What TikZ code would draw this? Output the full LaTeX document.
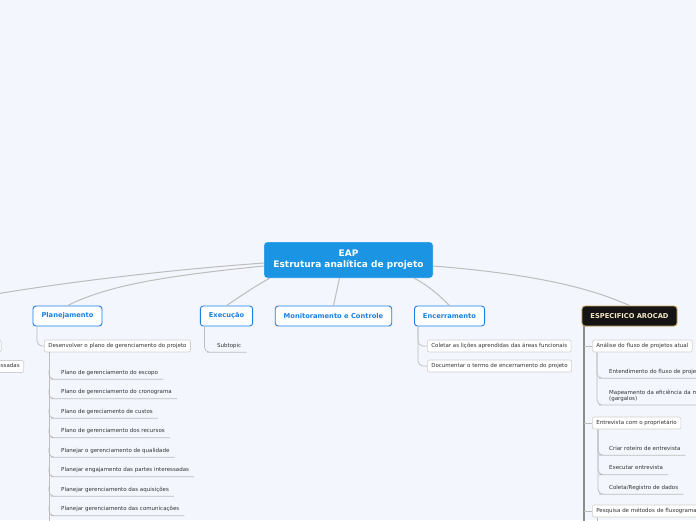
\documentclass[tikz,border=0pt]{standalone}
\usepackage{fontspec}
\setmainfont{DejaVu Sans}
\usepackage{xcolor}
\usetikzlibrary{positioning,calc}
\definecolor{bgpage}{HTML}{F3F6FD}
\definecolor{eapblue}{HTML}{1B95E3}
\definecolor{topicblue}{HTML}{1C7FE2}
\definecolor{linkgray}{HTML}{BDBDBD}
\definecolor{boxgray}{HTML}{CFCFCF}
\definecolor{txtgray}{HTML}{333333}
\definecolor{gold}{HTML}{C9A75A}
\definecolor{cream}{HTML}{F6E7C5}

\begin{document}
\begin{tikzpicture}[x=1pt, y=-1pt,
  root/.style={draw=white, fill=eapblue, rounded corners=3pt, text=white, font=\fontsize{9}{11}\selectfont\bfseries, align=center, minimum width=169pt, minimum height=36pt},
  topic/.style={draw=topicblue, line width=0.9pt, fill=white, rounded corners=3pt, text=topicblue, font=\fontsize{6.7}{8}\selectfont\bfseries, minimum height=20pt, inner xsep=8.5pt},
  special/.style={topic, draw=gold, fill=black!92, text=cream},
  sub/.style={draw=boxgray, line width=0.6pt, fill=white, rounded corners=2pt, text=txtgray, font=\fontsize{5.5}{6.2}\selectfont, text height=4pt, text depth=1.2pt, inner xsep=4pt, inner ysep=3.4pt, anchor=west},
  leaf/.style={text=txtgray, font=\fontsize{5.5}{6.2}\selectfont, text height=4pt, text depth=1.2pt, inner xsep=5pt, inner ysep=3.4pt, anchor=west},
  link/.style={draw=linkgray, line width=1pt},
  twig/.style={draw=linkgray, line width=0.7pt, rounded corners=5pt},
  trunk/.style={draw=black!45, line width=1.4pt}
]
\fill[bgpage] (0,0) rectangle (696,520);
\useasboundingbox (0,0) rectangle (696,520);
\clip (0,0) rectangle (696,520);

\node[root] (eap) at (348.5,260) {EAP\\Estrutura analítica de projeto};
\node[topic] (plan) at (67.5,316) {Planejamento};
\node[topic] (exec) at (226.5,316) {Execução};
\node[topic] (monit) at (333.5,316) {Monitoramento e Controle};
\node[topic] (encer) at (449.5,316) {Encerramento};
\node[special] (arocad) at (629.5,316) {ESPECIFICO AROCAD};
\coordinate (offleft) at (-4,294);

\node[sub, anchor=east, minimum width=40pt] (hidA) at (1.5,346) {};
\node[sub, anchor=east, text width=40pt, align=right] (hidB) at (24,366.5) {essadas};

\node[sub] (desenv) at (44,346) {Desenvolver o plano de gerenciamento do projeto};
\node[leaf] (escopo) at (56,373) {Plano de gerenciamento do escopo};
\node[leaf, below=19.5pt of escopo.west, anchor=west] (crono) {Plano de gerenciamento do cronograma};
\node[leaf, below=19.5pt of crono.west, anchor=west] (custos) {Plano de gereciamento de custos};
\node[leaf, below=19.5pt of custos.west, anchor=west] (recursos) {Plano de gerenciamento dos recursos};
\node[leaf, below=19.5pt of recursos.west, anchor=west] (qualid) {Planejar o gerenciamento de qualidade};
\node[leaf, below=19.5pt of qualid.west, anchor=west] (partes) {Planejar engajamento das partes interessadas};
\node[leaf, below=19.5pt of partes.west, anchor=west] (aquis) {Planejar gerenciamento das aquisições};
\node[leaf, below=19.5pt of aquis.west, anchor=west] (comun) {Planejar gerenciamento das comunicações};
\coordinate (dspine) at ([xshift=5pt]desenv.south west);
\coordinate (dend) at (49,524);

\node[leaf] (subtopic) at (212,346) {Subtopic};

\node[sub] (licoes) at (427,346) {Coletar as lições aprendidas das áreas funcionais};
\node[sub] (termo) at (427,366) {Documentar o termo de encerramento do projeto};

\coordinate (atop) at ([xshift=-45.5pt]arocad.south);
\coordinate (aend) at (584,524);
\draw[trunk] (atop) -- (aend);
\node[sub] (analise) at (592,346) {Análise do fluxo de projetos atual};
\node[sub] (entrev) at (592,423) {Entrevista com o proprietário};
\node[sub, text width=110pt] (pesq) at (592,511) {Pesquisa de métodos de fluxograma};
\node[leaf, text width=100pt] (entend) at (604,372) {Entendimento do fluxo de proje};
\node[leaf, anchor=south west, text depth=7.4pt, align=left, text width=100pt] (mapeam) at (604,405) {Mapeamento da eficiência da m\\(gargalos)};
\node[leaf] (roteiro) at (604,449) {Criar roteiro de entrevista};
\node[leaf, below=19.5pt of roteiro.west, anchor=west] (execent) {Executar entrevista};
\node[leaf, below=19.5pt of execent.west, anchor=west] (coleta) {Coleta/Registro de dados};
\coordinate (aspine) at ([xshift=5pt]analise.south west);
\coordinate (espine) at ([xshift=6pt]entrev.south west);
\coordinate (pspine) at ([xshift=5pt]pesq.south west);
\coordinate (pend) at (597,524);

\draw[link] ([yshift=-3pt]eap.west) .. controls +(-110,8) and +(60,-10) .. (offleft);
\draw[link] ([yshift=-6pt]eap.west) .. controls +(-100,10) and +(40,-20) .. (plan.north);
\draw[link] ([xshift=6pt]eap.south west) .. controls +(-15,8) and +(15,-10) .. (exec.north);
\draw[link] ([xshift=-9pt]eap.south) -- (monit.north);
\draw[link] ([xshift=-19pt]eap.south east) .. controls +(15,8) and +(-10,-10) .. (encer.north);
\draw[link] ([yshift=-6pt]eap.east) .. controls +(100,8) and +(-40,-18) .. (arocad.north);

\draw[twig] ([xshift=-30.5pt]plan.south) |- (desenv.west);
\draw[twig] (dspine) -- (dend);
\draw[twig] ($(escopo.south west -| dspine)+(0,-9)$) |- (escopo.south west) -- (escopo.south east);
\draw[twig] ($(crono.south west -| dspine)+(0,-9)$) |- (crono.south west) -- (crono.south east);
\draw[twig] ($(custos.south west -| dspine)+(0,-9)$) |- (custos.south west) -- (custos.south east);
\draw[twig] ($(recursos.south west -| dspine)+(0,-9)$) |- (recursos.south west) -- (recursos.south east);
\draw[twig] ($(qualid.south west -| dspine)+(0,-9)$) |- (qualid.south west) -- (qualid.south east);
\draw[twig] ($(partes.south west -| dspine)+(0,-9)$) |- (partes.south west) -- (partes.south east);
\draw[twig] ($(aquis.south west -| dspine)+(0,-9)$) |- (aquis.south west) -- (aquis.south east);
\draw[twig] ($(comun.south west -| dspine)+(0,-9)$) |- (comun.south west) -- (comun.south east);

\draw[twig] ([xshift=-22pt]exec.south) |- (subtopic.south west) -- (subtopic.south east);

\draw[twig] ([xshift=-31.5pt]encer.south) |- (licoes.west);
\draw[twig] ([xshift=-31.5pt]encer.south) |- (termo.west);

\draw[twig] (analise.west -| atop) -- (analise.west);
\draw[twig] (entrev.west -| atop) -- (entrev.west);
\draw[twig] (pesq.west -| atop) -- (pesq.west);
\draw[twig] (aspine) |- (entend.south west) -- (entend.south east);
\draw[twig] (aspine) |- (mapeam.south west) -- (mapeam.south east);
\draw[twig] (espine) |- (roteiro.south west) -- (roteiro.south east);
\draw[twig] (espine) |- (execent.south west) -- (execent.south east);
\draw[twig] (espine) |- (coleta.south west) -- (coleta.south east);
\draw[twig] (pspine) -- (pend);
\end{tikzpicture}
\end{document}
